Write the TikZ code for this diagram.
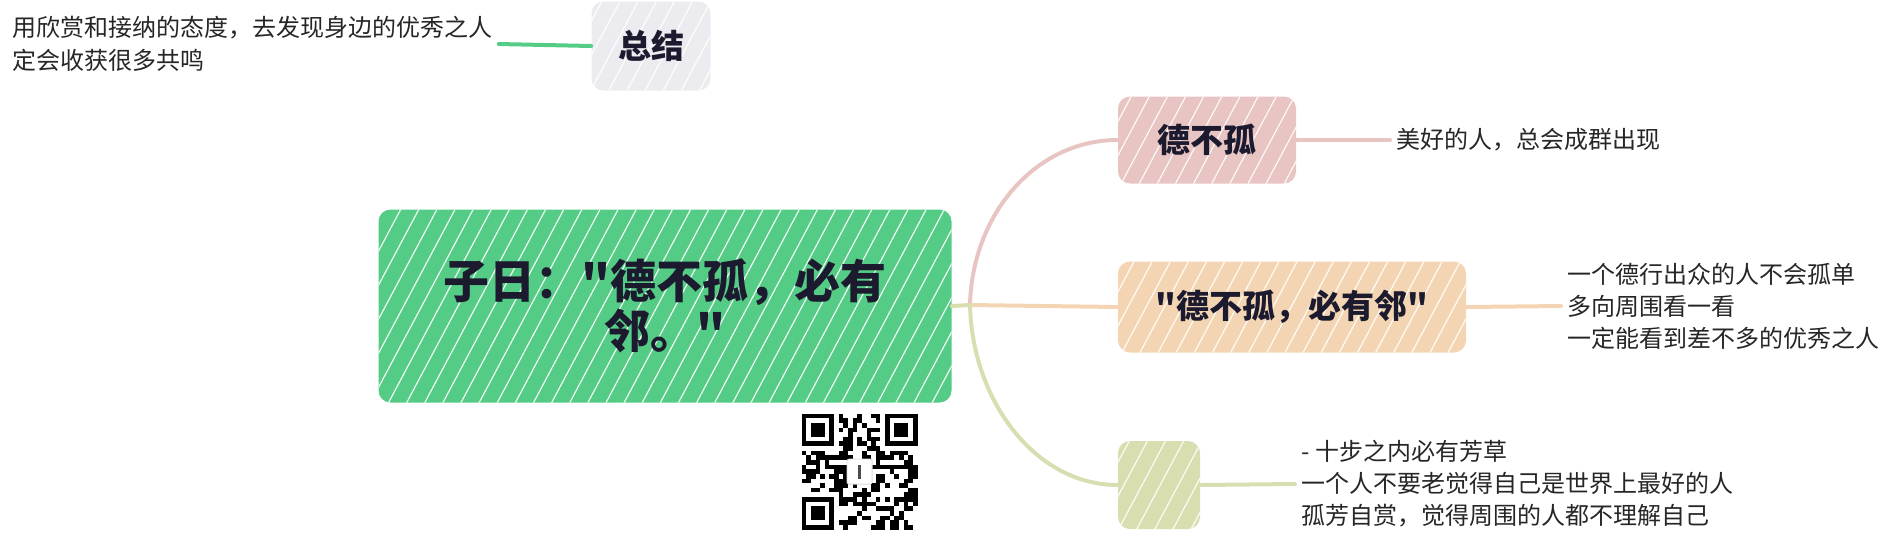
\documentclass[tikz,border=0pt]{standalone}
\usepackage{fontspec}
\setmainfont{Noto Sans CJK SC}[Ligatures=TeXOff]
\usetikzlibrary{patterns.meta}
\definecolor{rootgreen}{HTML}{54CC85}
\definecolor{sumgray}{HTML}{ECEBEF}
\definecolor{pinkbr}{HTML}{E8C4C3}
\definecolor{orangebr}{HTML}{F4D5B3}
\definecolor{olivebr}{HTML}{D9DEB1}
\definecolor{inkdark}{HTML}{1C1A2E}

\begin{document}
\begin{tikzpicture}[x=0.5pt,y=-0.5pt]
            \tikzset{
               sketch/.style={rounded corners=6pt, inner sep=0pt, text=inkdark, font=\bfseries,
                  postaction={pattern={Lines[angle=62,distance=8pt,line width=0.6pt]}, pattern color=white!90!#1}},
               topic/.style={sketch=#1, fill=#1, font=\fontsize{16.5}{18}\selectfont\bfseries},
               detail/.style={anchor=west, align=left, inner sep=3pt, text=black!85,
                  font=\fontsize{12}{16}\selectfont},
               branch/.style={line width=2pt, line cap=round}
            }
            \useasboundingbox (0,0) rectangle (1895,554);

            \node[sketch=rootgreen, fill=rootgreen, minimum width=286.5pt, minimum height=96.5pt,
                  align=center, font=\fontsize{23}{25}\selectfont\bfseries] (root) at (665,306)
                  {子日："德不孤，必有\\邻。"};
            \node[topic=sumgray, minimum width=59.5pt, minimum height=44.5pt] (zongjie) at (651,46) {总结};
            \node[detail, font=\fontsize{12}{16.5}\selectfont] (zongjietxt) at (6,44)
                  {用欣赏和接纳的态度，去发现身边的优秀之人\\定会收获很多共鸣};

            \node[topic=pinkbr, minimum width=89pt, minimum height=43.5pt] (debugu) at (1207,140) {德不孤};
            \node[topic=orangebr, minimum width=174pt, minimum height=45.5pt] (youlin) at (1292,307) {"德不孤，必有邻"};
            \node[topic=olivebr, minimum width=41pt, minimum height=44pt] (fangcao) at (1159,485) {};

            \node[detail] (debugutxt) at (1390,140) {美好的人，总会成群出现};
            \node[detail] (youlintxt) at (1561,306)
                  {一个德行出众的人不会孤单\\多向周围看一看\\一定能看到差不多的优秀之人};
            \node[detail] (fangcaotxt) at (1295,484)
                  {- 十步之内必有芳草\\一个人不要老觉得自己是世界上最好的人\\孤芳自赏，觉得周围的人都不理解自己};

            \coordinate (fork) at (970,305);
            \draw[branch, olivebr] (root.east) -- (fork);
            \draw[branch, pinkbr] (fork) .. controls (972,215) and (1035,140) .. (debugu.west);
            \draw[branch, orangebr] (fork) -- (youlin.west);
            \draw[branch, olivebr] (fork) .. controls (972,400) and (1035,485) .. (fangcao.west);

            \draw[branch, rootgreen] (zongjie.west) -- (zongjietxt.east);
            \draw[branch, pinkbr] (debugu.east) -- (debugutxt.west);
            \draw[branch, orangebr] (youlin.east) -- (youlintxt.west);
            \draw[branch, olivebr] (fangcao.east) -- (fangcaotxt.west);

            \node[minimum size=58pt, inner sep=0pt] (qr) at (860,472) {};
            \begin{scope}[shift={(qr.north west)}, x=2.32pt, y=-2.32pt]
               \pgfmathsetseed{17}
               \foreach \i in {0,...,24}{
                  \foreach \j in {0,...,24}{
                     \pgfmathtruncatemacro\qrzone{(\i<8)*(\j<8)+(\i>16)*(\j<8)+(\i<8)*(\j>16)}
                     \pgfmathtruncatemacro\qrbit{rnd>0.5}
                     \ifnum\qrzone=0 \ifnum\qrbit=1 \fill (\i,\j) rectangle ++(1,1); \fi\fi
                  }
               }
               \foreach \c in {(0,0),(18,0),(0,18)}{
                  \fill \c rectangle ++(7,7);
                  \fill[white] \c ++(1,1) rectangle ++(5,5);
                  \fill \c ++(2,2) rectangle ++(3,3);
               }
               \filldraw[fill=white, draw=black!15, rounded corners=1pt] (9.8,9.8) rectangle (15.2,15.2);
               \fill[black!70] (12.2,11) rectangle (12.8,14);
            \end{scope}
\end{tikzpicture}
\end{document}
